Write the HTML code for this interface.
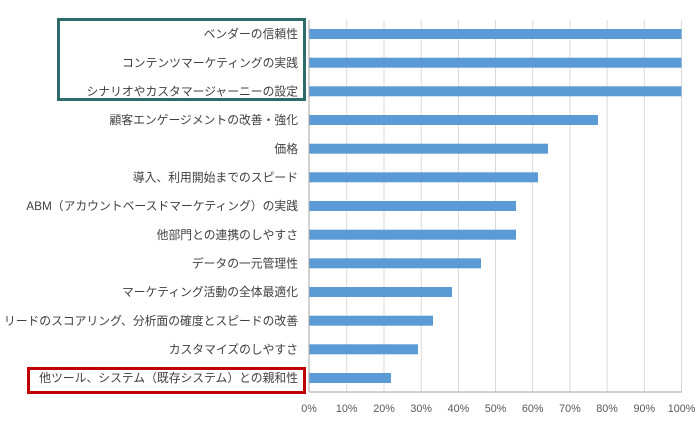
<!DOCTYPE html>
<html><head><meta charset="utf-8"><style>
body{margin:0;background:#fff;}
svg text{font-family:"Liberation Sans","Noto Sans CJK JP",sans-serif;}
</style></head><body>
<svg width="698" height="423" xmlns="http://www.w3.org/2000/svg">
<rect width="698" height="423" fill="#fff"/>
<g stroke="#d9d9d9" stroke-width="1">
<line x1="346.7" y1="20" x2="346.7" y2="392"/><line x1="384" y1="20" x2="384" y2="392"/>
<line x1="421.2" y1="20" x2="421.2" y2="392"/><line x1="458.4" y1="20" x2="458.4" y2="392"/>
<line x1="495.5" y1="20" x2="495.5" y2="392"/><line x1="532.7" y1="20" x2="532.7" y2="392"/>
<line x1="569.9" y1="20" x2="569.9" y2="392"/><line x1="607.1" y1="20" x2="607.1" y2="392"/>
<line x1="644.3" y1="20" x2="644.3" y2="392"/><line x1="681.5" y1="20" x2="681.5" y2="392"/>
</g>
<line x1="309" y1="20" x2="309" y2="392" stroke="#a6a6a6"/>
<line x1="309" y1="392" x2="682" y2="392" stroke="#a6a6a6"/>
<g fill="#5b9bd5">
<rect x="309.5" y="29" width="372" height="10"/>
<rect x="309.5" y="57.7" width="372" height="10"/>
<rect x="309.5" y="86.3" width="372" height="10"/>
<rect x="309.5" y="115" width="288.5" height="10"/>
<rect x="309.5" y="143.7" width="238.5" height="10"/>
<rect x="309.5" y="172.3" width="228.5" height="10"/>
<rect x="309.5" y="201" width="206.5" height="10"/>
<rect x="309.5" y="229.7" width="206.5" height="10"/>
<rect x="309.5" y="258.3" width="171.5" height="10"/>
<rect x="309.5" y="287" width="142.5" height="10"/>
<rect x="309.5" y="315.7" width="123.5" height="10"/>
<rect x="309.5" y="344.3" width="108.5" height="10"/>
<rect x="309.5" y="373" width="81.5" height="10"/>
</g>
<g font-size="11.8" fill="#404040" text-anchor="end">
<text x="298" y="38">ベンダーの信頼性</text>
<text x="298" y="67">コンテンツマーケティングの実践</text>
<text x="298" y="95.5">シナリオやカスタマージャーニーの設定</text>
<text x="298" y="124">顧客エンゲージメントの改善・強化</text>
<text x="298" y="153">価格</text>
<text x="298" y="181.5">導入、利用開始までのスピード</text>
<text x="298" y="210">ABM（アカウントベースドマーケティング）の実践</text>
<text x="298" y="239">他部門との連携のしやすさ</text>
<text x="298" y="267.5">データの一元管理性</text>
<text x="298" y="296">マーケティング活動の全体最適化</text>
<text x="298" y="325">リードのスコアリング、分析面の確度とスピードの改善</text>
<text x="298" y="353.5">カスタマイズのしやすさ</text>
<text x="298" y="382">他ツール、システム（既存システム）との親和性</text>
</g>
<g font-size="10.8" fill="#595959" text-anchor="middle">
<text x="309" y="412">0%</text><text x="346.7" y="412">10%</text><text x="384" y="412">20%</text>
<text x="421.2" y="412">30%</text><text x="458.4" y="412">40%</text><text x="495.5" y="412">50%</text>
<text x="532.7" y="412">60%</text><text x="569.9" y="412">70%</text><text x="607.1" y="412">80%</text>
<text x="644.3" y="412">90%</text><text x="681.5" y="412">100%</text>
</g>
<rect x="58.5" y="19.5" width="246" height="80" fill="none" stroke="#2e6b6b" stroke-width="3"/>
<rect x="28.5" y="368.5" width="276" height="24" fill="none" stroke="#c00000" stroke-width="3"/>
</svg>
</body></html>
